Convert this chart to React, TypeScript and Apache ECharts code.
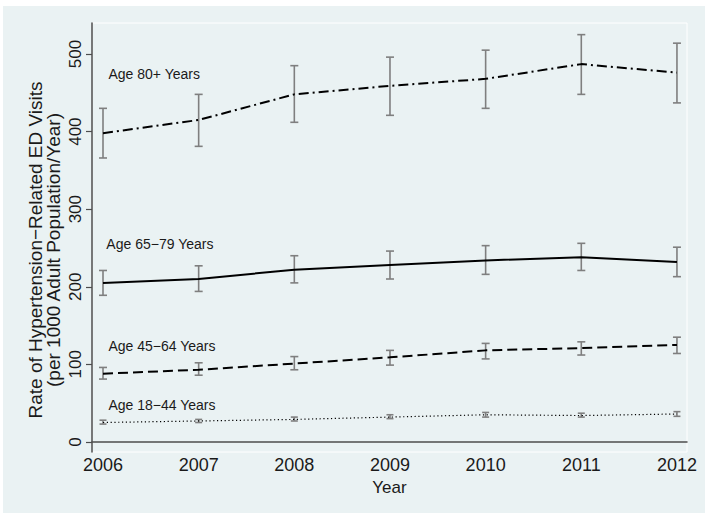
import React, { useEffect, useRef } from "react";
import * as echarts from "echarts";

const years = [2006, 2007, 2008, 2009, 2010, 2011, 2012];
const yTicks = [0, 100, 200, 300, 400, 500];

const age80 = [398, 415, 448, 459, 468, 487, 476];
const age80Low = [366, 381, 412, 421, 430, 448, 437];
const age80High = [430, 448, 485, 496, 505, 525, 514];

const age65 = [205, 210, 222, 228, 234, 238, 232];
const age65Low = [189, 194, 205, 210, 216, 221, 213];
const age65High = [221, 227, 240, 246, 253, 256, 251];

const age45 = [88, 93, 101, 109, 118, 121, 125];
const age45Low = [81, 86, 93, 99, 107, 112, 114];
const age45High = [96, 102, 110, 118, 127, 129, 135];

const age18 = [25, 27, 29, 32, 35, 34, 36];
const age18Low = [23, 25, 27, 30, 32, 32, 33];
const age18High = [28, 29, 32, 35, 38, 37, 39];

const seriesLabels = ["Age 80+ Years", "Age 65\u221279 Years", "Age 45\u221264 Years", "Age 18\u221244 Years"];
const labelX = [2006.052, 2006.03, 2006.052, 2006.052];
const labelY = [474, 255, 124, 47.5];

const FONT = "'Liberation Sans', Arial, Helvetica, sans-serif";
const BG = "#eaf2f3";
const CI = "#7f7f7f";

function ciSeries(low: number[], high: number[], cap: number) {
  return {
    type: "custom",
    data: years.map((y, i) => [y, low[i], high[i]]),
    encode: { x: 0, y: [1, 2] },
    z: 1,
    silent: true,
    renderItem: (params: any, api: any) => {
      const x = api.value(0);
      const lo = api.coord([x, api.value(1)]);
      const hi = api.coord([x, api.value(2)]);
      const st = { stroke: CI, lineWidth: 1.6 };
      return {
        type: "group",
        children: [
          { type: "line", shape: { x1: lo[0], y1: lo[1], x2: hi[0], y2: hi[1] }, style: st },
          { type: "line", shape: { x1: lo[0] - cap, y1: lo[1], x2: lo[0] + cap, y2: lo[1] }, style: st },
          { type: "line", shape: { x1: hi[0] - cap, y1: hi[1], x2: hi[0] + cap, y2: hi[1] }, style: st },
        ],
      };
    },
  };
}

function lineSeries(name: string, vals: number[], type: any, width: number) {
  return {
    type: "line",
    name,
    data: years.map((y, i) => [y, vals[i]]),
    showSymbol: false,
    symbol: "none",
    z: 3,
    silent: true,
    lineStyle: { color: "#000", width, type },
  };
}

export default function App() {
  const ref = useRef<HTMLDivElement>(null);
  useEffect(() => {
    if (!ref.current) return;
    const chart = echarts.init(ref.current, undefined, { renderer: "svg" });
    chart.setOption({
      animation: false,
      backgroundColor: "#ffffff",
      textStyle: { fontFamily: FONT },
      graphic: [
        {
          type: "rect",
          z: -100,
          silent: true,
          shape: { x: 3, y: 6, width: 702, height: 507 },
          style: { fill: BG },
        },
        {
          type: "text",
          x: 44,
          y: 250,
          rotation: Math.PI / 2,
          silent: true,
          style: {
            text: "Rate of Hypertension\u2212Related ED Visits\n(per 1000 Adult Population/Year)",
            fontFamily: FONT,
            fontSize: 19,
            lineHeight: 18,
            fill: "#1a1a1a",
            align: "center",
            verticalAlign: "middle",
          },
        },
      ],
      grid: {
        left: 92,
        top: 23,
        right: 24,
        bottom: 68,
        show: true,
        backgroundColor: BG,
        borderColor: "#ffffff",
        borderWidth: 1,
      },
      xAxis: {
        type: "value",
        min: 2005.885,
        max: 2012.105,
        name: "Year",
        nameLocation: "middle",
        nameGap: 21,
        nameTextStyle: { fontFamily: FONT, fontSize: 17, color: "#1a1a1a" },
        splitLine: { show: false },
        axisLine: { show: true, lineStyle: { color: "#4d4d4d", width: 1.5 } },
        axisTick: { show: false, customValues: years },
        axisLabel: {
          customValues: years,
          fontFamily: FONT,
          fontSize: 18,
          color: "#1a1a1a",
          margin: 4,
          formatter: (v: number) => String(Math.round(v)),
        },
      },
      yAxis: {
        type: "value",
        min: -13,
        max: 540,
        splitLine: { show: false },
        axisLine: { show: true, lineStyle: { color: "#4d4d4d", width: 1.5 } },
        axisTick: { show: true, length: 6, customValues: yTicks, lineStyle: { color: "#4d4d4d", width: 1.2 } },
        axisLabel: {
          customValues: yTicks,
          rotate: 90,
          fontFamily: FONT,
          fontSize: 17,
          color: "#1a1a1a",
          margin: 8,
          formatter: (v: number) => String(Math.round(v)),
        },
      },
      series: [
        ciSeries(age80Low, age80High, 4),
        ciSeries(age65Low, age65High, 4),
        ciSeries(age45Low, age45High, 4),
        ciSeries(age18Low, age18High, 3.5),
        lineSeries(seriesLabels[0], age80, [10, 4, 2, 4], 2),
        lineSeries(seriesLabels[1], age65, "solid", 2),
        lineSeries(seriesLabels[2], age45, [10, 5], 2),
        lineSeries(seriesLabels[3], age18, [1.2, 2.6], 1.2),
        {
          type: "scatter",
          data: seriesLabels.map((t, i) => [labelX[i], labelY[i], t]),
          symbolSize: 1,
          silent: true,
          itemStyle: { color: "rgba(0,0,0,0)" },
          z: 4,
          label: {
            show: true,
            position: "right",
            distance: 0,
            fontFamily: FONT,
            fontSize: 14,
            color: "#1a1a1a",
            opacity: 1,
            formatter: (p: any) => p.data[2],
          },
        },
      ],
    });
    return () => chart.dispose();
  }, []);
  return (
    <div
      ref={ref}
      style={{ position: "absolute", left: 0, top: 0, width: 711, height: 520 }}
    />
  );
}
